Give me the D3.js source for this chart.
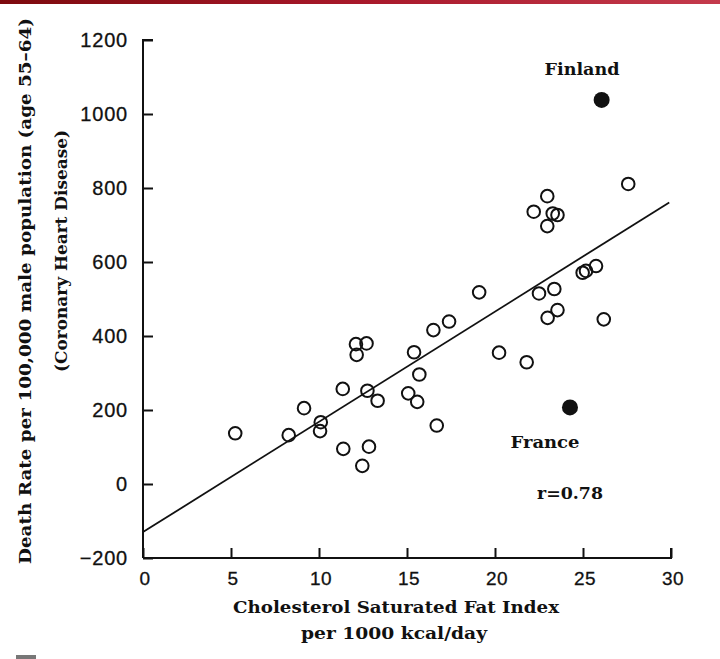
<!DOCTYPE html>
<html><head><meta charset="utf-8">
<script src="https://cdn.jsdelivr.net/npm/d3@7"></script>
<style>body{margin:0;background:#fff}svg{display:block}</style>
</head><body>
<svg id="c" width="720" height="659"></svg>
<script>
// ---- data ----
const fatIndex = [5.24,8.28,9.15,10.1,10.06,11.35,11.38,12.1,12.7,12.14,12.75,13.33,12.84,12.46,15.4,15.7,15.07,15.58,16.5,17.39,16.69,19.1,20.23,21.8,22.5,23.37,22.99,23.55,26.18,24.98,25.17,25.74,27.57,22.2,22.97,23.28,23.55,22.97];
const deathRate = [137,132,205,167,143,257,95,378,380,349,252,225,101,49,356,296,245,222,416,439,158,518,355,329,515,527,449,470,445,571,576,589,811,736,778,731,727,697];
const highlightNames = ["Finland","France"];
const highlightX = [26.06,24.26];
const highlightY = [1038,207];
const fitX = [0,29.9];
const fitY = [-130,761];
const xTicks = [0,5,10,15,20,25,30];
const yTicks = [-200,0,200,400,600,800,1000,1200];
const rLabel = "r=0.78";

const svg = d3.select("#c");
const x = d3.scaleLinear().domain([0,30]).range([143,671]);
const y = d3.scaleLinear().domain([-200,1200]).range([558,40]);

// top band
const g = svg.append("defs").append("linearGradient").attr("id","band");
g.append("stop").attr("offset","0").attr("stop-color","#7d0a0e");
g.append("stop").attr("offset","0.5").attr("stop-color","#a8182a");
g.append("stop").attr("offset","1").attr("stop-color","#c43a4c");
svg.append("rect").attr("x",0).attr("y",0).attr("width",720).attr("height",4).attr("fill","url(#band)");
svg.append("rect").attr("x",16).attr("y",655).attr("width",20).attr("height",4).attr("fill","#777");

// axes
const ya = svg.append("g").attr("transform","translate(143,0)")
  .call(d3.axisRight(y).tickValues(yTicks).tickSize(10).tickFormat(""));
const xa = svg.append("g").attr("transform","translate(0,558)")
  .call(d3.axisTop(x).tickValues(xTicks).tickSize(10).tickFormat(""));
[ya,xa].forEach(a=>{a.selectAll("path,line").attr("stroke","#111").attr("stroke-width",2);});
ya.select(".domain").attr("d","M0,"+y(-200)+"V"+y(1200)+"H10");
xa.select(".domain").attr("d","M"+x(0)+",0H"+x(30)+"V-10");

// tick labels
svg.append("g").selectAll("text").data(yTicks).join("text")
  .attr("x",128).attr("y",d=>y(d)+7).attr("text-anchor","end")
  .attr("font-family","Liberation Sans, Arial, sans-serif").attr("font-size",20)
  .attr("letter-spacing",0.8).attr("fill","#111").attr("stroke","#111").attr("stroke-width",0.3)
  .text(d=>d<0?"\u2212"+Math.abs(d):d);
svg.append("g").selectAll("text").data(xTicks).join("text")
  .attr("x",d=>x(d)+2).attr("y",585).attr("text-anchor","middle")
  .attr("font-family","Liberation Sans, Arial, sans-serif").attr("font-size",19)
  .attr("letter-spacing",0.5).attr("fill","#111").attr("stroke","#111").attr("stroke-width",0.3).text(d=>d);

// axis titles
const tf = "DejaVu Serif Condensed, DejaVu Serif, serif";
function title(sel){return sel.attr("font-family",tf).attr("font-weight","bold").attr("font-size",17)
  .attr("lengthAdjust","spacingAndGlyphs").attr("fill","#111");}
title(svg.append("text").attr("x",396).attr("y",613).attr("text-anchor","middle"))
  .attr("textLength",326).text("Cholesterol Saturated Fat Index");
title(svg.append("text").attr("x",394).attr("y",639).attr("text-anchor","middle"))
  .attr("textLength",186).text("per 1000 kcal/day");
title(svg.append("text").attr("transform","translate(31,291) rotate(-90)").attr("text-anchor","middle"))
  .attr("textLength",546).text("Death Rate per 100,000 male population (age 55\u201364)");
title(svg.append("text").attr("transform","translate(67,251) rotate(-90)").attr("text-anchor","middle"))
  .attr("textLength",242).text("(Coronary Heart Disease)");

// regression line
svg.append("line").attr("x1",x(fitX[0])).attr("y1",y(fitY[0]))
  .attr("x2",x(fitX[1])).attr("y2",y(fitY[1]))
  .attr("stroke","#111").attr("stroke-width",1.8);

// points
svg.append("g").selectAll("circle").data(fatIndex.map((v,i)=>[v,deathRate[i]])).join("circle")
  .attr("cx",d=>x(d[0])).attr("cy",d=>y(d[1])).attr("r",6.3)
  .attr("fill","none").attr("stroke","#111").attr("stroke-width",2);
svg.append("g").selectAll("circle").data(highlightX.map((v,i)=>[v,highlightY[i]])).join("circle")
  .attr("cx",d=>x(d[0])).attr("cy",d=>y(d[1])).attr("r",8).attr("fill","#111");

// labels
const lf = "DejaVu Serif Condensed, DejaVu Serif, serif";
const labPos = [[582,75,75],[545,448,69]];
svg.append("g").selectAll("text").data(highlightNames).join("text")
  .attr("x",(d,i)=>labPos[i][0]).attr("y",(d,i)=>labPos[i][1]).attr("text-anchor","middle")
  .attr("font-family",lf).attr("font-weight","bold").attr("font-size",17)
  .attr("textLength",(d,i)=>labPos[i][2]).attr("lengthAdjust","spacingAndGlyphs")
  .attr("fill","#111").text(d=>d);
svg.append("text").attr("x",570).attr("y",499).attr("text-anchor","middle")
  .attr("font-family",lf).attr("font-weight","bold").attr("font-size",17)
  .attr("textLength",66).attr("lengthAdjust","spacingAndGlyphs")
  .attr("fill","#111").text(rLabel);
</script>
</body></html>
